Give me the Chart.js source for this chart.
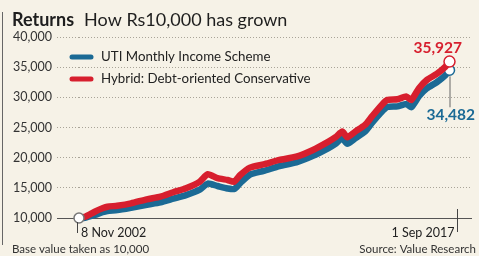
<!DOCTYPE html>
<html>
<head>
<meta charset="utf-8">
<script src="https://cdn.jsdelivr.net/npm/chart.js@4/dist/chart.umd.min.js"></script>
<style>
    html, body { margin: 0; padding: 0; background: #f6f2e7; }
    #wrap { position: relative; width: 479px; height: 256px; }
</style>
</head>
<body>
<div id="wrap"><canvas id="myChart" width="479" height="256"></canvas></div>
<script>
// decimal years
const years = [2002.85, 2003.09, 2003.48, 2003.79, 2003.99, 2004.38, 2004.93, 2005.56, 2006.11, 2006.62,
    2007.13, 2007.68, 2008.00, 2008.39, 2008.79, 2009.06, 2009.30, 2009.69, 2010.24, 2010.87,
    2011.54, 2012.21, 2012.83, 2013.11, 2013.38, 2013.58, 2013.90, 2014.29, 2014.56, 2014.96,
    2015.19, 2015.59, 2015.94, 2016.14, 2016.45, 2016.77, 2017.16, 2017.51, 2017.67];

const hybrid = [10000, 10200, 11040, 11600, 11870, 12040, 12430, 13100, 13530, 14270,
    14930, 16020, 17250, 16600, 16300, 16020, 17130, 18350, 18900, 19620,
    20170, 21280, 22660, 23390, 24320, 23390, 24320, 25420, 26800, 28740,
    29570, 29680, 30120, 29570, 31510, 32890, 33880, 35100, 35927];

const uti = [10000, 10050, 10500, 10950, 11150, 11300, 11700, 12200, 12600, 13200,
    13800, 14700, 15700, 15300, 14900, 14800, 15800, 17200, 17800, 18600,
    19200, 20300, 21600, 22300, 23200, 22300, 23200, 24300, 25700, 27600,
    28400, 28500, 28900, 28350, 30200, 31500, 32500, 33700, 34482];

const seriesNames = ['UTI Monthly Income Scheme', 'Hybrid: Debt-oriented Conservative'];
const yTicks = [10000, 15000, 20000, 25000, 30000, 35000, 40000];
const dateLabels = ['8 Nov 2002', '1 Sep 2017'];

const BLUE = '#1b6a95';
const RED = '#d71f2e';
const FONT = 'Lato, "Open Sans", sans-serif';

const last = years.length - 1;
const toXY = (vals) => vals.map((v, i) => ({ x: years[i], y: v }));

function pointSizes(first, end) {
    return years.map((_, i) => i === 0 ? first : (i === last ? end : 0));
}
function pointColors(first, end) {
    return years.map((_, i) => i === 0 ? first : end);
}
const isBase = (c) => c.tick && c.tick.value === 10000;

const extras = {
    id: 'extras',
    afterDraw(chart) {
        const ctx = chart.ctx;
        const xs = chart.scales.x;
        const ys = chart.scales.y;
        const area = chart.chartArea;
        ctx.save();

        // title
        ctx.fillStyle = '#1e1e1e';
        ctx.textBaseline = 'alphabetic';
        ctx.textAlign = 'left';
        ctx.font = 'bold 18px ' + FONT;
        ctx.fillText('Returns', 12, 26);
        const w = ctx.measureText('Returns').width;
        ctx.font = '18px ' + FONT;
        ctx.fillText('How Rs10,000 has grown', 12 + w + 10, 26);

        // legend
        const items = [[BLUE, seriesNames[0], 57], [RED, seriesNames[1], 79]];
        ctx.font = '13.3px ' + FONT;
        ctx.textBaseline = 'middle';
        items.forEach(([c, t, y]) => {
            ctx.strokeStyle = c;
            ctx.lineWidth = 5;
            ctx.lineCap = 'round';
            ctx.beginPath();
            ctx.moveTo(72, y);
            ctx.lineTo(91, y);
            ctx.stroke();
            ctx.fillStyle = '#222';
            ctx.fillText(t, 101, y);
        });

        // date ticks and labels
        const x0 = xs.getPixelForValue(years[0]);
        const x1 = xs.getPixelForValue(years[last]) + 8;
        ctx.strokeStyle = '#444';
        ctx.lineWidth = 1;
        ctx.lineCap = 'butt';
        ctx.beginPath();
        ctx.moveTo(x0 - 1.5, area.bottom + 4);
        ctx.lineTo(x0 - 1.5, area.bottom + 15);
        ctx.moveTo(x1, area.bottom - 9);
        ctx.lineTo(x1, area.bottom + 14);
        ctx.stroke();
        ctx.fillStyle = '#222';
        ctx.font = '12.5px ' + FONT;
        ctx.textBaseline = 'alphabetic';
        ctx.textAlign = 'left';
        ctx.fillText(dateLabels[0], x0 + 2, area.bottom + 19);
        ctx.textAlign = 'right';
        ctx.fillText(dateLabels[1], x1 - 3, area.bottom + 19);

        // end values
        const xe = xs.getPixelForValue(years[last]);
        const yr = ys.getPixelForValue(hybrid[last]);
        const yb = ys.getPixelForValue(uti[last]);
        ctx.strokeStyle = '#666';
        ctx.beginPath();
        ctx.moveTo(xe + 0.5, yb + 6);
        ctx.lineTo(xe + 0.5, yb + 37);
        ctx.stroke();
        ctx.font = 'bold 15.5px ' + FONT;
        ctx.fillStyle = RED;
        ctx.textAlign = 'right';
        ctx.fillText(hybrid[last].toLocaleString('en-US'), 462, yr - 9);
        ctx.fillStyle = BLUE;
        ctx.fillText(uti[last].toLocaleString('en-US'), 475, yb + 50);

        // footer
        ctx.fillStyle = '#333';
        ctx.font = '11.5px ' + FONT;
        ctx.textAlign = 'left';
        ctx.fillText('Base value taken as 10,000', 12, 253);
        ctx.textAlign = 'right';
        ctx.fillText('Source: Value Research', 476, 253);

        // frame rule on the left
        ctx.strokeStyle = '#666';
        ctx.beginPath();
        ctx.moveTo(2.5, 12);
        ctx.lineTo(2.5, 245);
        ctx.stroke();
        ctx.restore();
    }
};

const ctx = document.getElementById('myChart').getContext('2d');
new Chart(ctx, {
    type: 'line',
    data: {
        datasets: [{
            label: seriesNames[0],
            data: toXY(uti),
            borderColor: BLUE,
            borderWidth: 6.5,
            tension: 0.2,
            order: 1,
            clip: false,
            pointRadius: pointSizes(0, 5),
            pointBackgroundColor: '#ffffff',
            pointBorderColor: BLUE,
            pointBorderWidth: 1.5
        }, {
            label: seriesNames[1],
            data: toXY(hybrid),
            borderColor: RED,
            borderWidth: 6.5,
            tension: 0.2,
            order: 0,
            clip: false,
            pointRadius: pointSizes(5, 5.5),
            pointBackgroundColor: '#ffffff',
            pointBorderColor: pointColors('#777777', RED),
            pointBorderWidth: 1.5
        }]
    },
    options: {
        responsive: false,
        animation: false,
        layout: { padding: { top: 37, bottom: 38, left: 12, right: 0 } },
        plugins: { legend: { display: false }, tooltip: { enabled: false } },
        scales: {
            x: {
                type: 'linear',
                display: false,
                min: 2002.85,
                max: 2018.57
            },
            y: {
                min: 10000,
                max: 40000,
                afterFit(scale) { scale.width = 67; },
                afterBuildTicks(scale) { scale.ticks = yTicks.map(v => ({ value: v })); },
                border: {
                    display: false,
                    dash: (c) => isBase(c) ? [] : [1, 2]
                },
                grid: {
                    tickLength: 22,
                    lineWidth: 1,
                    color: (c) => isBase(c) ? '#555' : '#a9a498',
                    tickColor: (c) => isBase(c) ? '#555' : '#a9a498',
                    tickBorderDash: (c) => isBase(c) ? [] : [1, 2]
                },
                ticks: {
                    padding: 5,
                    color: '#333',
                    font: { family: FONT, size: 12.5 },
                    callback: (v) => v.toLocaleString('en-US')
                }
            }
        }
    },
    plugins: [extras]
});
</script>
</body>
</html>
